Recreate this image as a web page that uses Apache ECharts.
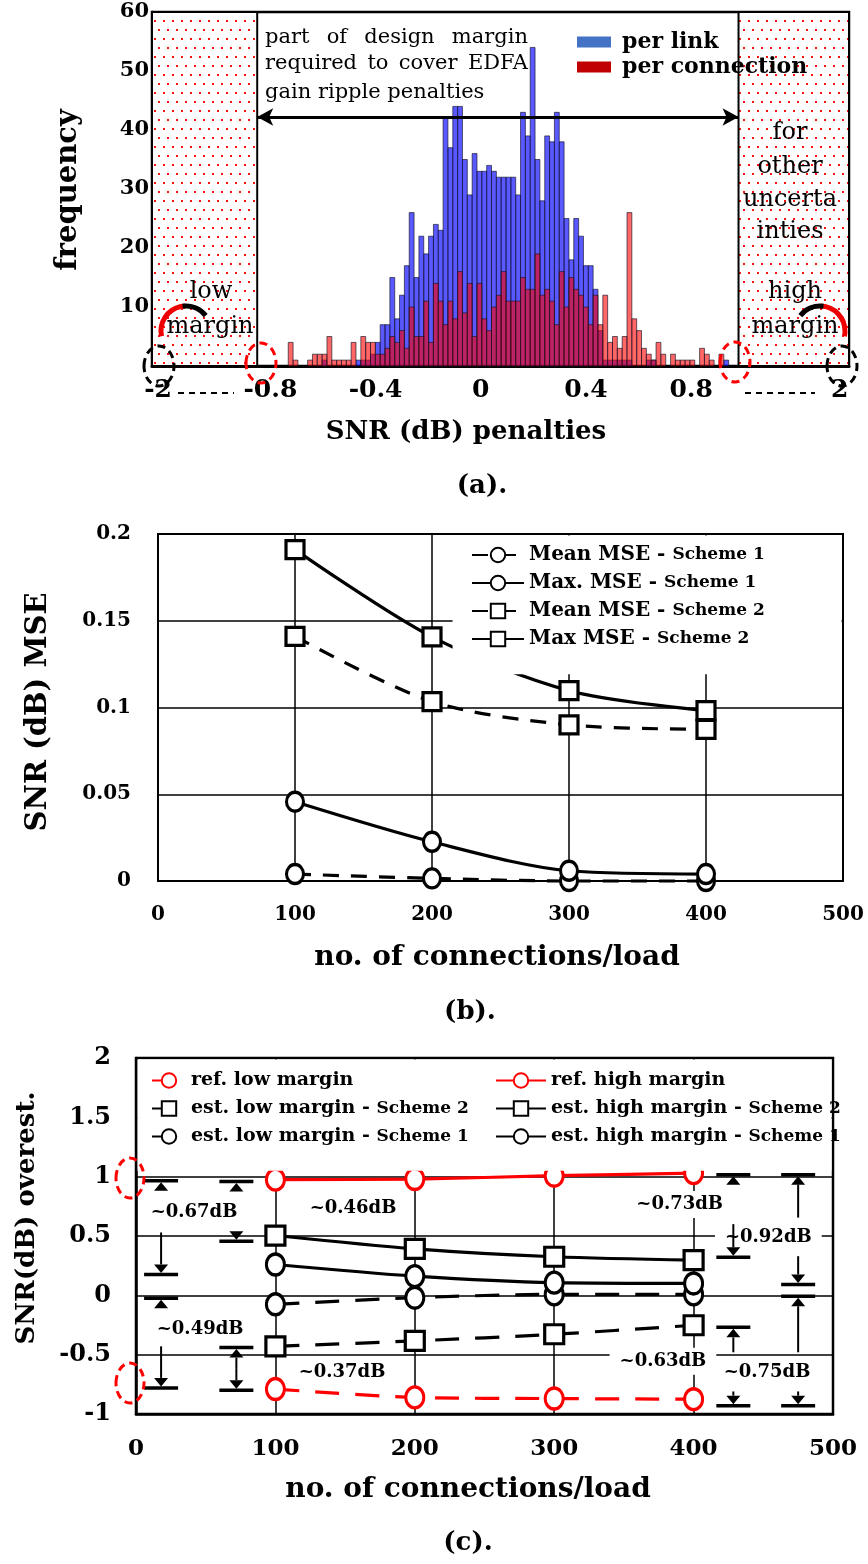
<!DOCTYPE html>
<html><head><meta charset="utf-8">
<script src="https://cdn.jsdelivr.net/npm/echarts@6/dist/echarts.min.js"></script>
<style>html,body{margin:0;padding:0;background:#fff}#c{width:868px;height:1564px}</style>
</head><body><div id="c"></div>
<script>
// ================= DATA =================
// (a) histogram of SNR penalties (counts per bin)
const histBinStart = -0.732;
const histBinWidth = 0.0184;
const perLinkCounts = [0,0,0,0,0,0,0,1,0,0, 0,0,0,0,1,1,1,2,4,7, 7,15,8,12,17,26,15,22,19,22,
  24,23,42,37,44,44,35,29,36,33, 33,34,33,32,32,32,32,29,43,39, 54,35,28,39,38,43,38,25,18,25,
  22,17,17,13,6,1,1,1,1,1, 1,0,0,0,1,1,0,0,0,0, 0,0,0,0,0,0,0,0,0,0, 1];
const perConnectionCounts = [4,1,0,0,1,2,2,2,5,1, 1,1,1,4,0,5,4,4,2,2, 3,5,4,6,3,10,5,5,11,4,
  14,11,7,11,8,16,9,14,5,14, 8,6,10,12,16,11,11,11,15,13, 13,19,12,13,11,7,16,10,15,13,
  12,10,7,12,7,12,4,5,3,5, 26,8,6,3,2,1,4,2,0,2, 1,1,1,1,0,3,2,1,0,2, 0];
const histTickValues = [-0.8, -0.4, 0, 0.4, 0.8];
const histBreakLabels = ['-2', '2'];
const marginBounds = [-0.85, 0.98];       // inner design-margin region
const histXRange = [-1.25, 1.4];

// (b) SNR MSE vs load
const loads = [100, 200, 300, 400];
const meanMseScheme1 = [0.004, 0.0015, 0.0, 0.0];
const maxMseScheme1  = [0.0457, 0.0226, 0.0059, 0.004];
const meanMseScheme2 = [0.141, 0.1034, 0.09, 0.0874];
const maxMseScheme2  = [0.191, 0.1407, 0.1097, 0.0982];

// (c) SNR overestimation
const refLowMargin   = [-0.79, -0.86, -0.87, -0.875];
const refHighMargin  = [0.975, 0.98, 1.008, 1.03];
const estLowScheme2  = [-0.43, -0.384, -0.328, -0.252];
const estHighScheme2 = [0.504, 0.392, 0.325, 0.297];
const estLowScheme1  = [-0.076, -0.02, 0.008, 0.008];
const estHighScheme1 = [0.26, 0.162, 0.107, 0.10];

// (c) gap annotations [x, y, text] and dimension arrows [x, yCap, dir(1 up/-1 down), shaftEnd]
const gapLabels = [[41.6,0.70,'~0.67dB'],[155.7,0.73,'~0.46dB'],[390,0.765,'~0.73dB'],[453.6,0.49,'~0.92dB'],
  [46,-0.29,'~0.49dB'],[147.8,-0.65,'~0.37dB'],[378,-0.555,'~0.63dB'],[452.7,-0.65,'~0.75dB']];
const dimArrows = [
  [18,0.966,1,null],[18,0.176,-1,0.53],[18,-0.025,1,null],[18,-0.78,-1,-0.43],
  [72,0.96,1,null],[72,0.455,-1,null],[72,-0.44,1,-0.62],[72,-0.80,-1,-0.62],
  [428.5,1.017,1,null],[428.5,0.32,-1,0.60],[428.5,-0.27,1,-0.48],[428.5,-0.93,-1,-0.81],
  [475,1.017,1,0.655],[475,0.092,-1,0.33],[475,-0.008,1,-0.48],[475,-0.93,-1,-0.81]
];

// ================= RENDER =================
const SERIF = '"DejaVu Serif", serif';
const BOLD = (s) => 'bold ' + s + 'px "DejaVu Serif"';
const REG = (s) => s + 'px "DejaVu Serif"';

function dotPattern(){
  const c = document.createElement('canvas'); c.width = 9; c.height = 18;
  const g = c.getContext('2d');
  g.fillStyle = '#fff'; g.fillRect(0,0,9,18);
  g.fillStyle = '#ff1010'; g.fillRect(1,2,2,2); g.fillRect(5,11,2,2);
  return c;
}
const mctx = document.createElement('canvas').getContext('2d');
function justified(words, left, right, y, font){
  mctx.font = font;
  const w = words.map(t => mctx.measureText(t).width);
  const gap = (right - left - w.reduce((a,b)=>a+b,0)) / (words.length - 1);
  let x = left; const out = [];
  words.forEach((t,i) => { out.push({type:'text', x:x, y:y, z:10, style:{text:t, font:font, fill:'#000', align:'left', verticalAlign:'middle'}}); x += w[i] + gap; });
  return out;
}
function txt(t, x, y, font, opts){
  return Object.assign({type:'text', x:x, y:y, z:10, style:{text:t, font:font, fill:'#000', align:'center', verticalAlign:'middle'}}, opts||{});
}

function histRender(fill){
  return function(params, api){
    const x0 = api.value(0), v = api.value(1);
    if (!v) return null;
    const p0 = api.coord([x0, 0]);
    const p1 = api.coord([x0 + histBinWidth, v]);
    return {type:'rect', shape:{x:p0[0], y:p1[1], width:p1[0]-p0[0], height:p0[1]-p1[1]},
      style:{fill:fill, stroke:'rgba(20,20,40,0.65)', lineWidth:1}};
  };
}

function lineS(name, xi, ys, dashed, symbol, color, size, dash){
  return {type:'line', name:name, xAxisIndex:xi, yAxisIndex:xi,
    data: loads.map((x,i)=>[x, ys[i]]), smooth:0.3, clip:false,
    symbol:symbol, symbolSize:size, showAllSymbol:true,
    lineStyle:{color:color, width:3.2, type: dashed ? dash : 'solid'},
    itemStyle:{color:'#fff', borderColor:color, borderWidth:3.2}, z:2};
}

const legendRich = (big, small) => ({
  formatter: n => { const p = n.split(' - '); return p.length > 1 ? '{m|' + p[0] + ' - }{s|' + p[1] + '}' : '{m|' + n + '}'; },
  textStyle: {rich: {m:{fontFamily:SERIF, fontWeight:'bold', fontSize:big, color:'#000'}, s:{fontFamily:SERIF, fontWeight:'bold', fontSize:small, color:'#000'}}}
});

const chart = echarts.init(document.getElementById('c'), null, {width:868, height:1564});
const tickFont = (s) => ({fontFamily:SERIF, fontWeight:'bold', fontSize:s, color:'#000'});

const option = {
  animation:false,
  backgroundColor:'#fff',
  grid:[
    {left:152, top:12, width:697, height:354, show:true, borderColor:'#000', borderWidth:2.5},
    {left:158, top:534, width:685, height:347, show:true, borderColor:'#000', borderWidth:2},
    {left:136, top:1058, width:697, height:356, show:true, borderColor:'#000', borderWidth:2.5}
  ],
  xAxis:[
    {gridIndex:0, type:'value', min:histXRange[0], max:histXRange[1],
      axisLine:{onZero:false, lineStyle:{color:'#000', width:3}}, axisTick:{show:false}, splitLine:{show:false},
      axisLabel:Object.assign({margin:12, customValues:[-1.227].concat(histTickValues, [1.365]),
        formatter: v => v < -1 ? histBreakLabels[0] : (v > 1 ? histBreakLabels[1] : String(+v.toFixed(1)))}, tickFont(25))},
    {gridIndex:1, type:'value', min:0, max:500, interval:100,
      axisLine:{onZero:false, lineStyle:{color:'#000', width:2}}, axisTick:{show:false},
      splitLine:{show:true, lineStyle:{color:'#000', width:1.5}},
      axisLabel:Object.assign({margin:24}, tickFont(20))},
    {gridIndex:2, type:'value', min:0, max:500, interval:100,
      axisLine:{onZero:false, lineStyle:{color:'#000', width:2.5}}, axisTick:{show:false},
      splitLine:{show:true, lineStyle:{color:'#000', width:1.5}},
      axisLabel:Object.assign({margin:24}, tickFont(23))}
  ],
  yAxis:[
    {gridIndex:0, type:'value', min:0, max:60, interval:10,
      axisLine:{onZero:false, lineStyle:{color:'#000', width:2.5}},
      axisTick:{show:true, inside:true, length:12, lineStyle:{color:'#000', width:2}},
      splitLine:{show:false},
      axisLabel:Object.assign({margin:3, formatter: v => v === 0 ? '' : String(v)}, tickFont(21))},
    {gridIndex:1, type:'value', min:0, max:0.2, interval:0.05,
      axisLine:{onZero:false, lineStyle:{color:'#000', width:2}}, axisTick:{show:false},
      splitLine:{show:true, lineStyle:{color:'#000', width:1.5}},
      axisLabel:Object.assign({margin:27, formatter: v => String(+v.toFixed(2))}, tickFont(20))},
    {gridIndex:2, type:'value', min:-1, max:2, interval:0.5,
      axisLine:{onZero:false, lineStyle:{color:'#000', width:2.5}}, axisTick:{show:false},
      splitLine:{show:true, lineStyle:{color:'#000', width:1.5}},
      axisLabel:Object.assign({margin:25, formatter: v => String(+v.toFixed(1))}, tickFont(24))}
  ],
  legend:[
    {data:['per link','per connection'], orient:'vertical', left:572, top:26, itemWidth:34, itemHeight:11, itemGap:3,
      icon:'rect', selectedMode:false, textStyle:{fontFamily:SERIF, fontWeight:'bold', fontSize:22, color:'#000', padding:[0,0,0,6]}},
    Object.assign({data:['Mean MSE - Scheme 1','Max. MSE - Scheme 1','Mean MSE - Scheme 2','Max MSE - Scheme 2'],
      orient:'vertical', left:466, top:540, itemWidth:52, itemHeight:18, itemGap:8, selectedMode:false, z:5}, legendRich(20,17)),
    Object.assign({data:['ref. low margin','est. low margin - Scheme 2','est. low margin - Scheme 1'],
      orient:'vertical', left:146, top:1066, itemWidth:34, itemHeight:18, itemGap:9, selectedMode:false, z:5}, legendRich(19,17)),
    Object.assign({data:['ref. high margin','est. high margin - Scheme 2','est. high margin - Scheme 1'],
      orient:'vertical', left:490, top:1066, itemWidth:50, itemHeight:18, itemGap:9, selectedMode:false, z:5}, legendRich(19,17))
  ],
  series:[
    {type:'custom', name:'per link', xAxisIndex:0, yAxisIndex:0, itemStyle:{color:'#4472c4'},
      renderItem:histRender('rgba(0,0,255,0.65)'), encode:{x:0, y:1},
      data: perLinkCounts.map((v,i)=>[histBinStart + i*histBinWidth, v])},
    {type:'custom', name:'per connection', xAxisIndex:0, yAxisIndex:0, itemStyle:{color:'#c00000'},
      renderItem:histRender('rgba(255,0,0,0.6)'), encode:{x:0, y:1},
      data: perConnectionCounts.map((v,i)=>[histBinStart + i*histBinWidth, v])},
    {type:'line', xAxisIndex:0, yAxisIndex:0, data:[], silent:true,
      markArea:{silent:true, itemStyle:{color:{image:dotPattern(), repeat:'repeat'}, opacity:1, borderColor:'#000', borderWidth:2},
        data:[[{xAxis:histXRange[0]},{xAxis:marginBounds[0]}],[{xAxis:marginBounds[1]},{xAxis:histXRange[1]}]]},
      markLine:{silent:true, symbol:['arrow','arrow'], symbolSize:[13,16], label:{show:false},
        lineStyle:{color:'#000', width:3, type:'solid'},
        data:[[{coord:[marginBounds[0], 42.2]},{coord:[marginBounds[1], 42.2]}]]}},
    lineS('Mean MSE - Scheme 1', 1, meanMseScheme1, true, 'circle', '#000', [17,19], [16,12]),
    lineS('Max. MSE - Scheme 1', 1, maxMseScheme1, false, 'circle', '#000', [17,19]),
    lineS('Mean MSE - Scheme 2', 1, meanMseScheme2, true, 'rect', '#000', 18, [16,12]),
    lineS('Max MSE - Scheme 2', 1, maxMseScheme2, false, 'rect', '#000', 18),
    lineS('ref. low margin', 2, refLowMargin, true, 'circle', '#ff0000', [18,21], [24,16]),
    lineS('ref. high margin', 2, refHighMargin, false, 'circle', '#ff0000', [18,21]),
    lineS('est. low margin - Scheme 2', 2, estLowScheme2, true, 'rect', '#000', 19, [24,16]),
    lineS('est. high margin - Scheme 2', 2, estHighScheme2, false, 'rect', '#000', 19),
    lineS('est. low margin - Scheme 1', 2, estLowScheme1, true, 'circle', '#000', [18,21], [24,16]),
    lineS('est. high margin - Scheme 1', 2, estHighScheme1, false, 'circle', '#000', [18,21]),
    {type:'custom', xAxisIndex:2, yAxisIndex:2, z:3, silent:true, encode:{x:0,y:1},
      data: gapLabels.map(d=>[d[0], d[1]]),
      renderItem:(params, api) => {
        const p = api.coord([api.value(0), api.value(1)]);
        return {type:'text', x:p[0], y:p[1], style:{text:gapLabels[params.dataIndex][2], font:BOLD(18), fill:'#000',
          align:'center', verticalAlign:'middle', backgroundColor:'#fff', padding:[5,10,4,10]}};
      }},
    {type:'custom', xAxisIndex:2, yAxisIndex:2, z:4, silent:true, encode:{x:0,y:1},
      data: dimArrows.map(d=>[d[0], d[1]]),
      renderItem:(params, api) => {
        const d = dimArrows[params.dataIndex];
        const tip = api.coord([d[0], d[1]]);
        const dir = d[2], ah = 10, aw = 7;
        const base = tip[1] + dir*ah;
        const ch = [
          {type:'line', shape:{x1:tip[0]-17, y1:tip[1], x2:tip[0]+17, y2:tip[1]}, style:{stroke:'#000', lineWidth:3.5}},
          {type:'polygon', shape:{points:[[tip[0], tip[1]+dir*1.5],[tip[0]-aw, base],[tip[0]+aw, base]]}, style:{fill:'#000'}}
        ];
        if (d[3] !== null) {
          const e = api.coord([d[0], d[3]]);
          ch.push({type:'line', shape:{x1:tip[0], y1:base, x2:tip[0], y2:e[1]}, style:{stroke:'#000', lineWidth:2}});
        }
        return {type:'group', children:ch};
      }}
  ]
};
chart.setOption(option);

// ---------- annotations / titles ----------
const px = (gi, xy) => chart.convertToPixel({gridIndex:gi}, xy);
const g = [];
// white backdrops behind legends of (b) and (c)
{ const a = px(1,[215,0.2]), b = px(1,[500,0.12]);
  g.push({type:'rect', z:3, shape:{x:a[0], y:a[1]+1.5, width:b[0]-a[0]-1.5, height:b[1]-a[1]}, style:{fill:'#fff'}}); }
{ const a = px(2,[0,2]), b = px(2,[500,1.05]);
  g.push({type:'rect', z:3, shape:{x:a[0]+1.5, y:a[1]+1.5, width:b[0]-a[0]-3, height:b[1]-a[1]-1.5}, style:{fill:'#fff'}}); }

// (a) texts
g.push(...justified(['part','of','design','margin'], 265, 528, 38, REG(21)));
g.push(...justified(['required','to','cover','EDFA'], 265, 528, 64, REG(21)));
g.push({type:'text', x:265, y:93, z:10, style:{text:'gain ripple penalties', font:REG(21), fill:'#000', align:'left', verticalAlign:'middle'}});
[['for',133],['other',167],['uncerta',200],['inties',232]].forEach(t => g.push(txt(t[0], 790, t[1], REG(24))));
g.push(txt('low', 211, 292, REG(24)), txt('margin', 210, 327, REG(24)));
g.push(txt('high', 795, 292, REG(24)), txt('margin', 795, 327, REG(24)));
g.push(txt('frequency', 68, 190, BOLD(29), {rotation:Math.PI/2}));
g.push(txt('SNR (dB) penalties', 466, 432, BOLD(26)));
g.push(txt('(a).', 482, 486, BOLD(26)));
// broken-axis dashes
g.push({type:'line', z:10, shape:{x1:178, y1:393, x2:234, y2:393}, style:{stroke:'#000', lineWidth:2, lineDash:[6,5]}});
g.push({type:'line', z:10, shape:{x1:745, y1:393, x2:815, y2:393}, style:{stroke:'#000', lineWidth:2, lineDash:[6,5]}});
// dashed ellipses
[[159,366,'#000'],[842,366,'#000'],[261,363,'#f00'],[735,362,'#f00']].forEach(e =>
  g.push({type:'ellipse', z:11, shape:{cx:e[0], cy:e[1], rx:15, ry:20}, style:{fill:null, stroke:e[2], lineWidth:3, lineDash:[8,5]}}));
// curved arrows
const D = Math.PI/180;
g.push({type:'arc', z:11, shape:{cx:186, cy:331, r:25, startAngle:168*D, endAngle:268*D, clockwise:true}, style:{fill:null, stroke:'#e00', lineWidth:5}});
g.push({type:'arc', z:11, shape:{cx:186, cy:331, r:25, startAngle:262*D, endAngle:322*D, clockwise:true}, style:{fill:null, stroke:'#000', lineWidth:5}});
g.push({type:'arc', z:11, shape:{cx:820, cy:331, r:25, startAngle:272*D, endAngle:372*D, clockwise:true}, style:{fill:null, stroke:'#e00', lineWidth:5}});
g.push({type:'arc', z:11, shape:{cx:820, cy:331, r:25, startAngle:218*D, endAngle:278*D, clockwise:true}, style:{fill:null, stroke:'#000', lineWidth:5}});

// (b)
g.push(txt('SNR (dB) MSE', 38, 712, BOLD(29), {rotation:Math.PI/2}));
g.push(txt('no. of connections/load', 497, 958, BOLD(28)));
g.push(txt('(b).', 470, 1012, BOLD(26)));
// (c)
g.push(txt('SNR(dB) overest.', 27, 1218, BOLD(26), {rotation:Math.PI/2}));
g.push(txt('no. of connections/load', 468, 1490, BOLD(28)));
g.push(txt('(c).', 468, 1543, BOLD(26)));
[[130,1178],[130,1383]].forEach(e =>
  g.push({type:'ellipse', z:11, shape:{cx:e[0], cy:e[1], rx:14, ry:20}, style:{fill:null, stroke:'#f00', lineWidth:3, lineDash:[8,5]}}));

chart.setOption({graphic:{elements:g}});
</script>
</body></html>
